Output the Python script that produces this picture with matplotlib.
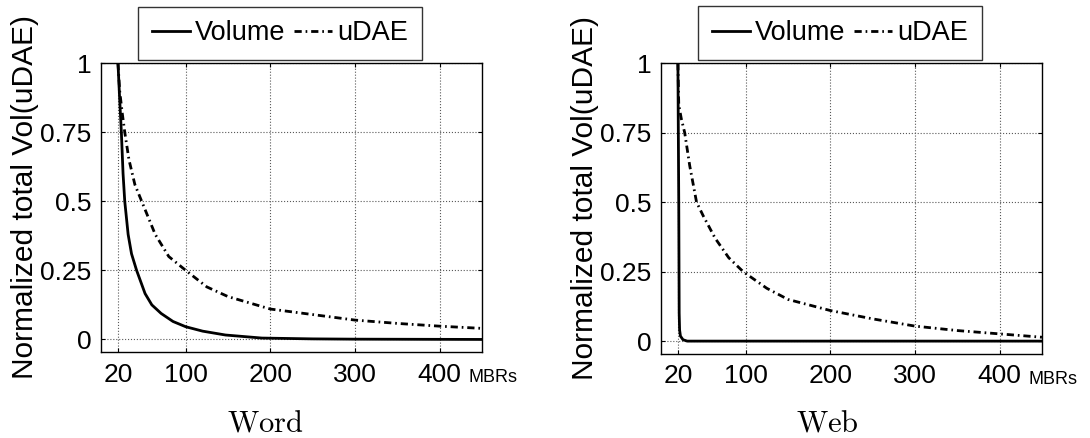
import numpy as np
import matplotlib
matplotlib.use('Agg')
import matplotlib.pyplot as plt

plt.rcParams['font.family'] = ['Liberation Sans', 'DejaVu Sans']
plt.rcParams['mathtext.fontset'] = 'cm'

# Word dataset
word_vol_x = [20, 22, 24, 26, 28, 32, 36, 42, 52, 60, 71, 85, 100, 120, 147, 190, 250, 300, 450]
word_vol_y = [1.0, 0.87, 0.75, 0.6, 0.5, 0.38, 0.31, 0.25, 0.166, 0.125, 0.094, 0.065, 0.046, 0.03, 0.016, 0.005, 0.002, 0.001, 0.0]
word_udae_x = [20, 22, 25, 28, 33, 40, 48, 64, 80, 100, 125, 150, 200, 250, 300, 350, 400, 450]
word_udae_y = [1.0, 0.9, 0.82, 0.75, 0.65, 0.56, 0.5, 0.38, 0.3, 0.25, 0.19, 0.155, 0.11, 0.09, 0.07, 0.058, 0.048, 0.04]

# Web dataset
web_vol_x = [20, 21, 21.5, 22, 23, 26, 31, 450]
web_vol_y = [1.0, 0.5, 0.1, 0.04, 0.018, 0.005, 0.0, 0.0]
web_udae_x = [20, 21, 24, 28, 34, 42, 50, 64, 80, 97, 125, 150, 200, 250, 300, 350, 400, 450]
web_udae_y = [1.0, 0.85, 0.8, 0.75, 0.63, 0.5, 0.45, 0.37, 0.3, 0.25, 0.19, 0.15, 0.11, 0.08, 0.054, 0.038, 0.026, 0.014]

xticks = [20, 100, 200, 300, 400]
yticks = [0, 0.25, 0.5, 0.75, 1]
ytick_labels = ['0', '0.25', '0.5', '0.75', '1']


def draw_panel(ax, vol_x, vol_y, udae_x, udae_y):
    ax.plot(vol_x, vol_y, color='black', lw=2.0, label='Volume')
    ax.plot(udae_x, udae_y, color='black', lw=2.0, linestyle='-.',
            dashes=(2.6, 1.4, 0.6, 1.4), label='uDAE')
    ax.set_xlim(0, 450)
    ax.set_ylim(-0.046, 1.0)
    ax.set_xticks(xticks)
    ax.set_yticks(yticks)
    ax.set_yticklabels(ytick_labels)
    ax.tick_params(labelsize=19, direction='in', length=3, top=True, right=True)
    ax.tick_params(axis='x', pad=7.5)
    ax.tick_params(axis='y', pad=7)
    ax.grid(True, linestyle=':', color='0.35', lw=0.8)
    for s in ax.spines.values():
        s.set_linewidth(1.0)
    ax.set_ylabel('Normalized total Vol(uDAE)', fontsize=21.5, labelpad=1)
    ax.yaxis.label.set_y(0.535)
    ax.text(0.965, -0.104, 'MBRs', transform=ax.transAxes, fontsize=13,
            va='baseline', ha='left')
    leg = ax.legend(loc='lower center', bbox_to_anchor=(0.47, 1.012), ncol=2, fontsize=19.5,
                    frameon=True, fancybox=False, edgecolor='black', handlelength=1.4,
                    handletextpad=0.2, columnspacing=0.3, borderpad=0.5, borderaxespad=0)
    leg.get_frame().set_linewidth(1.0)


fig = plt.figure(figsize=(10.9, 4.38), dpi=100)
ax1 = fig.add_axes([0.0927, 0.196, 0.3495, 0.660])
ax2 = fig.add_axes([0.6064, 0.192, 0.3495, 0.664])

draw_panel(ax1, word_vol_x, word_vol_y, word_udae_x, word_udae_y)
draw_panel(ax2, web_vol_x, web_vol_y, web_udae_x, web_udae_y)

fig.text(265 / 1090, 1 - 431 / 438, r'$\mathrm{Word}$', fontsize=22, ha='center', va='baseline')
fig.text(827 / 1090, 1 - 431 / 438, r'$\mathrm{Web}$', fontsize=22, ha='center', va='baseline')

fig.savefig('out.png', dpi=100)
